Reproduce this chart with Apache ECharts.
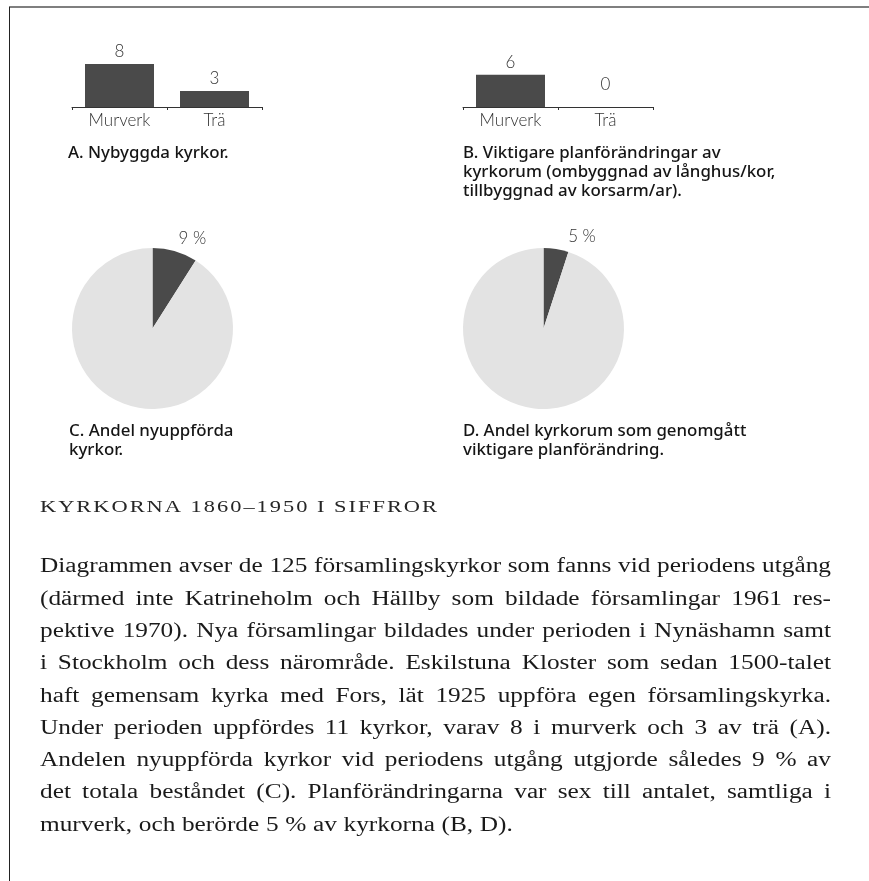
<!DOCTYPE html>
<html>
<head>
<meta charset="utf-8">
<script src="https://cdn.jsdelivr.net/npm/echarts@6/dist/echarts.min.js"></script>
<style>html,body{margin:0;padding:0;background:#fff;}#c{width:869px;height:881px;}</style>
</head>
<body>
<div id="c"></div>
<script>
// ---- data ----
const categories = ['Murverk', 'Trä'];
const newChurches = [8, 3];          // A
const planChanges = [6, 0];          // B
const shareNew = [9, 91];            // C (%)
const sharePlan = [5, 95];           // D (%)
const captionA = ['A. Nybyggda kyrkor.'];
const captionB = ['B. Viktigare planförändringar av', 'kyrkorum (ombyggnad av långhus/kor,', 'tillbyggnad av korsarm/ar).'];
const captionC = ['C. Andel nyuppförda', 'kyrkor.'];
const captionD = ['D. Andel kyrkorum som genomgått', 'viktigare planförändring.'];
const heading = 'KYRKORNA 1860–1950 I SIFFROR';
const paraLines = [
  'Diagrammen avser de 125 församlingskyrkor som fanns vid periodens utgång',
  '(därmed inte Katrineholm och Hällby som bildade församlingar 1961 res-',
  'pektive 1970). Nya församlingar bildades under perioden i Nynäshamn samt',
  'i Stockholm och dess närområde. Eskilstuna Kloster som sedan 1500-talet',
  'haft gemensam kyrka med Fors, lät 1925 uppföra egen församlingskyrka.',
  'Under perioden uppfördes 11 kyrkor, varav 8 i murverk och 3 av trä (A).',
  'Andelen nyuppförda kyrkor vid periodens utgång utgjorde således 9 % av',
  'det totala beståndet (C). Planförändringarna var sex till antalet, samtliga i',
  'murverk, och berörde 5 % av kyrkorna (B, D).'
];

// ---- styles ----
const DARK = '#4a4a4a', LIGHT = '#e3e3e3';
const SANS = 'Lato, "Noto Sans", sans-serif';
const CAPSANS = '"Noto Sans", sans-serif';
const SERIF = '"Liberation Serif", serif';

const mctx = document.createElement('canvas').getContext('2d');
function tw(str, font) { mctx.font = font; return mctx.measureText(str).width; }

const graphics = [];
// borders
graphics.push({ type: 'line', shape: { x1: 9, y1: 7, x2: 869, y2: 7 }, style: { stroke: '#555', lineWidth: 1.3 } });
graphics.push({ type: 'line', shape: { x1: 9.5, y1: 7, x2: 9.5, y2: 881 }, style: { stroke: '#222', lineWidth: 1 } });

// captions
const capSize = Math.min(18, 1.03 * 16 * 156 / tw(captionA[0], '500 16px ' + CAPSANS));
const capFont = '500 ' + capSize.toFixed(2) + 'px ' + CAPSANS;
function addCaption(lines, x, y0) {
  lines.forEach((t, i) => {
    graphics.push({ type: 'text', x: x, y: y0 + i * 19,
      style: { text: t, font: capFont, fill: '#151515', textAlign: 'left', textVerticalAlign: 'middle' } });
  });
}
addCaption(captionA, 68, 153);
addCaption(captionB, 463, 153);
addCaption(captionC, 69, 431);
addCaption(captionD, 463, 431);

// heading: caps, widened and letter-spaced to fill its span
(function () {
  const font = '17.5px ' + SERIF;
  const chars = heading.split('');
  const x0 = 40, x1 = 437, LS = 2;
  const widths = chars.map(c => tw(c, font));
  const total = widths.reduce((a, b) => a + b, 0);
  const s = (x1 - x0 - LS * (chars.length - 1)) / total;
  let x = x0;
  chars.forEach((c, i) => {
    if (c !== ' ') graphics.push({ type: 'text', x: x, y: 507, scaleX: s,
      style: { text: c, font: font, fill: '#262626', textAlign: 'left', textVerticalAlign: 'middle' } });
    x += widths[i] * s + LS;
  });
})();

// justified paragraph
(function () {
  const font = '20.5px ' + SERIF;
  const X0 = 40, X1 = 831, Y0 = 567, DY = 32.3, span = X1 - X0;
  const spW = tw(' ', font);
  const info = paraLines.map(l => {
    const words = l.split(' ');
    const ws = words.map(w => tw(w, font));
    return { words, ws, sum: ws.reduce((a, b) => a + b, 0) };
  });
  const ratios = info.slice(0, -1).map(o => span / (o.sum + (o.words.length - 1) * spW * 1.05));
  const s = Math.min.apply(null, ratios);
  info.forEach((o, li) => {
    const last = li === info.length - 1;
    const n = o.words.length;
    const gap = last ? spW * s * 1.05 : (span - s * o.sum) / (n - 1);
    let x = X0;
    o.words.forEach((w, i) => {
      graphics.push({ type: 'text', x: x, y: Y0 + li * DY, scaleX: s,
        style: { text: w, font: font, fill: '#1a1a1a', textAlign: 'left', textVerticalAlign: 'middle' } });
      x += o.ws[i] * s + gap;
    });
  });
})();

const labelFont = { fontFamily: SANS, fontSize: 17, fontWeight: 300, color: '#333' };

function barSeries(idx, vals) {
  return {
    type: 'bar', xAxisIndex: idx, yAxisIndex: idx, barWidth: 69,
    itemStyle: { color: DARK },
    label: Object.assign({ show: true, position: 'top', distance: 4 }, labelFont),
    data: vals.map(v => v === 0 ? { value: v, label: { distance: 14 } } : v),
    silent: true
  };
}
function pieSeries(center, vals, len2) {
  return {
    type: 'pie', center: center, radius: 80.5, startAngle: 90, clockwise: true,
    silent: true, avoidLabelOverlap: false,
    label: Object.assign({ position: 'outside', distanceToLabelLine: 0, formatter: '{c} %' }, labelFont),
    labelLine: { show: false, length: 13, length2: len2 },
    data: [
      { value: vals[0], itemStyle: { color: DARK } },
      { value: vals[1], itemStyle: { color: LIGHT }, label: { show: false } }
    ]
  };
}

const axisX = i => ({
  type: 'category', gridIndex: i, data: categories,
  axisLine: { lineStyle: { color: '#333', width: 1 } },
  axisTick: { show: true, length: 3, lineStyle: { color: '#333' } },
  axisLabel: Object.assign({ margin: 5 }, labelFont)
});
const axisY = i => ({ type: 'value', gridIndex: i, min: 0, max: 8, show: false });

const chart = echarts.init(document.getElementById('c'), null, { renderer: 'canvas' });
chart.setOption({
  animation: false,
  backgroundColor: '#fff',
  grid: [
    { left: 72, top: 64, width: 190, height: 43 },
    { left: 463, top: 64, width: 190, height: 43 }
  ],
  xAxis: [axisX(0), axisX(1)],
  yAxis: [axisY(0), axisY(1)],
  series: [
    barSeries(0, newChurches),
    barSeries(1, planChanges),
    pieSeries([152.5, 328.5], shareNew, 0),
    pieSeries([543.5, 328.5], sharePlan, 10)
  ],
  graphic: graphics
});
</script>
</body>
</html>
